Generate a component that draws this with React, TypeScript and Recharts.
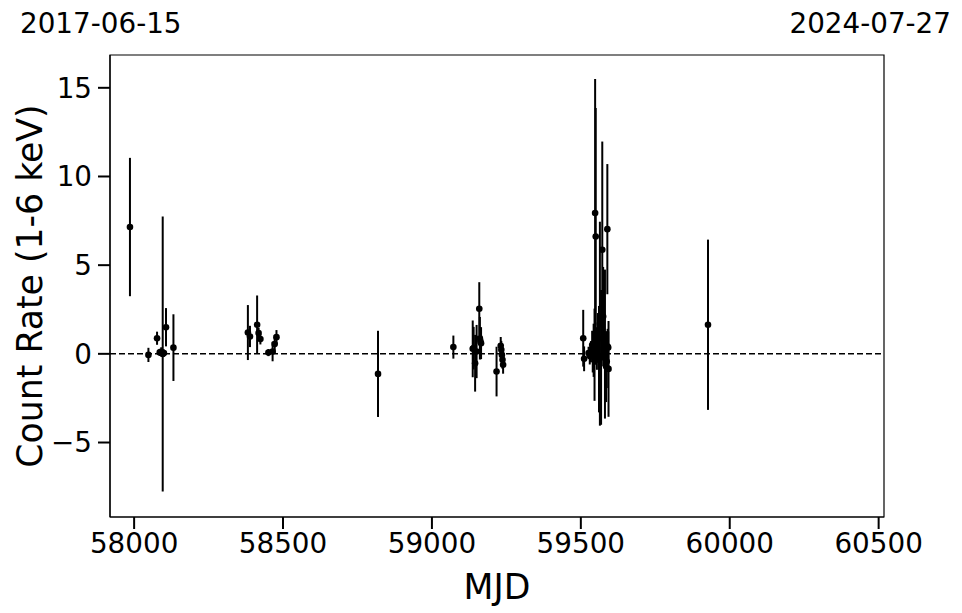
import React from "react";
import {
  ScatterChart, Scatter, XAxis, YAxis, ErrorBar, ReferenceLine, ReferenceArea,
} from "recharts";

// observation epochs (MJD), count rate (1-6 keV) and 1-sigma errors
const mjd = [
  57986, 58048, 58077, 58086, 58091, 58096, 58100, 58107, 58132,
  58382, 58389, 58413, 58418, 58424, 58451, 58465, 58472, 58478,
  58819,
  59072, 59137, 59140, 59145, 59150, 59159, 59161, 59163, 59165,
  59217, 59231, 59233, 59235, 59237, 59239,
  59508, 59511, 59526, 59530, 59534, 59538, 59540, 59543, 59546, 59548,
  59550, 59554, 59557, 59561, 59564, 59568, 59572, 59575, 59578, 59581,
  59585, 59587, 59589, 59590, 59592, 59593,
  59927,
];
const rate = [
  7.15, -0.06, 0.88, 0.08, 0.12, -0.01, 0.05, 1.5, 0.35,
  1.2, 0.98, 1.64, 1.17, 0.83, 0.07, 0.13, 0.55, 0.94,
  -1.13,
  0.38, 0.28, 0.32, -0.53, 0.13, 2.54, 0.88, 0.7, 0.6,
  -1.0, 0.45, 0.23, -0.06, -0.34, -0.62,
  0.88, -0.28, 0.05, -0.1, 0.12, 0.5, -0.15, 0.2, -0.05, 7.94,
  6.62, 0.3, 0.9, -0.3, 1.7, -0.2, 5.87, 2.1, 0.8, 0.55,
  -0.72, -0.43, 7.03, 0.41, 0.36, -0.85,
  1.64,
];
const rateErr = [
  3.9, 0.4, 0.37, 0.2, 0.25, 7.75, 0.2, 1.08, 1.88,
  1.55, 0.6, 1.65, 0.3, 0.3, 0.2, 0.55, 0.5, 0.4,
  2.43,
  0.65, 1.6, 1.2, 1.6, 1.5, 1.5, 1.2, 0.8, 0.9,
  1.4, 0.5, 0.5, 0.5, 0.5, 0.5,
  1.6, 0.7, 0.35, 0.5, 0.6, 0.8, 0.9, 1.5, 2.6, 7.55,
  7.24, 1.2, 1.4, 3.0, 5.75, 3.8, 6.1, 2.8, 1.5, 4.2,
  2.0, 1.5, 3.67, 1.0, 0.9, 2.7,
  4.8,
];

const xTicks = [58000, 58500, 59000, 59500, 60000, 60500];
const yTicks = [-5, 0, 5, 10, 15];
const startDate = "2017-06-15";
const endDate = "2024-07-27";

const points = mjd.map((m, i) => ({ mjd: m, rate: rate[i], err: rateErr[i] }));

const FONT = "DejaVu Sans";
const tickStyle = { fill: "#000", fontSize: 27.8, fontFamily: FONT };

const Dot = (props: any) => <circle cx={props.cx} cy={props.cy} r={3.3} fill="#000" />;

export default function App() {
  return (
    <div style={{ position: "absolute", left: 0, top: 0, width: 962, height: 613, background: "#fff" }}>
      <div style={{ position: "absolute", left: 20, top: 9.5, fontFamily: FONT, fontSize: 27.8, lineHeight: 1 }}>{startDate}</div>
      <div style={{ position: "absolute", right: 11, top: 9.5, fontFamily: FONT, fontSize: 27.8, lineHeight: 1 }}>{endDate}</div>
      <ScatterChart width={962} height={613} margin={{ top: 55, right: 78, bottom: 0, left: 0 }}>
        <XAxis
          type="number" dataKey="mjd" domain={[57919, 60518]} ticks={xTicks} allowDataOverflow
          tick={tickStyle} tickLine={{ stroke: "#000", strokeWidth: 2 }} tickSize={12} tickMargin={4}
          axisLine={{ stroke: "#000", strokeWidth: 1.2 }} height={96}
          label={{ value: "MJD", position: "insideBottom", offset: 14, fill: "#000", fontSize: 34.7, fontFamily: FONT }}
        />
        <YAxis
          type="number" dataKey="rate" domain={[-9.2, 16.85]} ticks={yTicks} allowDataOverflow
          tick={tickStyle} tickLine={{ stroke: "#000", strokeWidth: 2 }} tickSize={12} tickMargin={6}
          axisLine={{ stroke: "#000", strokeWidth: 1.2 }} width={110}
          tickFormatter={(v: number) => String(v).replace("-", "\u2212")}
          label={{
            content: (p: any) => {
              const vb = p.viewBox || {};
              const cx = 30;
              const cy = vb.y + vb.height / 2;
              return (
                <text x={cx} y={cy} transform={`rotate(-90 ${cx} ${cy})`} textAnchor="middle"
                  dominantBaseline="central" fill="#000" fontSize={34.7} fontFamily={FONT}>
                  Count Rate (1-6 keV)
                </text>
              );
            },
          }}
        />
        <ReferenceArea x1={57919} x2={60518} y1={-9.2} y2={16.85} fill="none" stroke="#000" strokeWidth={1.2} />
        <ReferenceLine y={0} stroke="#000" strokeWidth={1.5} strokeDasharray="6 3" />
        <Scatter data={points} shape={Dot} isAnimationActive={false}>
          <ErrorBar dataKey="err" direction="y" width={0} stroke="#000" strokeWidth={2} />
        </Scatter>
      </ScatterChart>
    </div>
  );
}
